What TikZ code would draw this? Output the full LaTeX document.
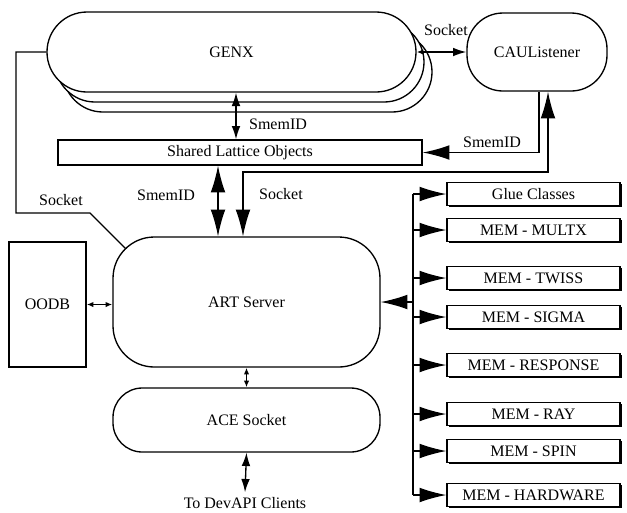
\documentclass[tikz,border=0pt]{standalone}
\usepackage{fontspec}
\setmainfont{Liberation Serif}
\usetikzlibrary{arrows.meta,shadows}

\tikzset{every picture/.style={line width=1pt}}
\tikzset{
  bigtip/.tip={Latex[length=20pt,width=11pt]},
  midtip/.tip={Latex[length=10pt,width=6.5pt]},
  smalltip/.tip={Latex[length=5pt,width=4pt]},
  proc/.style={draw, fill=white, rounded corners=#1, inner sep=0pt},
  plainbox/.style={draw, fill=white, inner sep=0pt},
  membox/.style={draw, fill=white, inner sep=0pt, minimum width=129.75pt, minimum height=17.25pt,
    drop shadow={shadow xshift=1.3pt, shadow yshift=-1.3pt, opacity=1, fill=black}},
}

\begin{document}
\begin{tikzpicture}[x=0.75pt,y=0.75pt,yscale=-1,xscale=1,font=\fontsize{12pt}{14pt}\selectfont]
	\useasboundingbox (0,0) rectangle (627,512);

	%Shape: GENX stack [id:genx]
	\node [proc=30pt, minimum width=276.75pt, minimum height=60pt] (genxb) at (247.5,72) {};
	\node [proc=30pt, minimum width=276.75pt, minimum height=60pt] (genxa) at (239.5,62) {};
	\node [proc=30pt, minimum width=276.75pt, minimum height=60pt] (genx) at (231.5,52) {GENX};
	%Shape: CAUListener [id:cau]
	\node [proc=27pt, minimum width=105pt, minimum height=58.5pt] (cau) at (537,52) {CAUListener};
	%Shape: Rectangle [id:lattice]
	\node [plainbox, minimum width=273pt, minimum height=18.75pt] (lattice) at (240,152.5) {Shared Lattice Objects};
	%Shape: ART Server [id:art]
	\node [proc=31pt, minimum width=200.25pt, minimum height=97.5pt] (art) at (246.5,302) {ART Server};
	%Shape: Rectangle [id:oodb]
	\node [plainbox, minimum width=57.75pt, minimum height=93.75pt] (oodb) at (47.5,304.5) {OODB};
	%Shape: ACE Socket [id:ace]
	\node [proc=22pt, minimum width=200.25pt, minimum height=48pt] (ace) at (246.5,420) {ACE Socket};

	%Shape: MEM boxes
	\node [membox] (glue) at (533.5,194) {Glue Classes};
	\node [membox] (multx) at (533.5,230) {MEM - MULTX};
	\node [membox] (twiss) at (533.5,278) {MEM - TWISS};
	\node [membox] (sigma) at (533.5,317) {MEM - SIGMA};
	\node [membox] (response) at (533.5,365) {MEM - RESPONSE};
	\node [membox] (ray) at (533.5,414) {MEM - RAY};
	\node [membox] (spin) at (533.5,451) {MEM - SPIN};
	\node [membox] (hardware) at (533.5,495) {MEM - HARDWARE};

	% Text Node
	\node (devapi) at (245,503) {To DevAPI Clients};

	% Helper coordinates
	\coordinate (smemtop) at (236,0);
	\coordinate (smemlow) at (218,0);
	\coordinate (cauleft) at (539,0);
	\coordinate (cauright) at (548,0);
	\coordinate (sockbend) at (243,172);
	\coordinate (sockl) at (16,213);
	\coordinate (sockm) at (90,213);
	\coordinate (artnw) at (126,249);
	\coordinate (bus) at (413,0);

	%Straight Lines [id:genx-lattice]
	\draw [{midtip}-{midtip}] (genx.south -| smemtop) -- (lattice.north -| smemtop);
	%Straight Lines [id:genx-cau]
	\draw [{smalltip}-{midtip}] (genx.east) -- (cau.west);
	%Straight Lines [id:cau-lattice]
	\draw [-{bigtip}] (cau.south -| cauleft) |- (lattice.east);
	%Straight Lines [id:cau-art]
	\draw [{bigtip}-{bigtip}] (cau.south -| cauright) |- (sockbend) -- (sockbend |- art.north);
	%Straight Lines [id:lattice-art]
	\draw [{bigtip}-{bigtip}] (lattice.south -| smemlow) -- (art.north -| smemlow);
	%Straight Lines [id:genx-art]
	\draw (genx.west) -| (sockl) -- (sockm) -- (artnw);
	%Straight Lines [id:oodb-art]
	\draw [{smalltip}-{smalltip}] (oodb.east) -- (oodb.east -| art.west);
	%Straight Lines [id:art-ace]
	\draw [{smalltip}-{smalltip}] (art.south) -- (ace.north);
	%Straight Lines [id:ace-devapi]
	\draw [{midtip}-{midtip}] (ace.south) -- (devapi.north);

	%Straight Lines [id:bus]
	\draw (glue.west -| bus) -- (hardware.west -| bus);
	\draw [-{bigtip}] (art.east -| bus) -- (art.east);
	\draw [-{bigtip}] (glue.west -| bus) -- (glue.west);
	\draw [-{bigtip}] (multx.west -| bus) -- (multx.west);
	\draw [-{bigtip}] (twiss.west -| bus) -- (twiss.west);
	\draw [-{bigtip}] (sigma.west -| bus) -- (sigma.west);
	\draw [-{bigtip}] (response.west -| bus) -- (response.west);
	\draw [-{bigtip}] (ray.west -| bus) -- (ray.west);
	\draw [-{bigtip}] (spin.west -| bus) -- (spin.west);
	\draw [-{bigtip}] (hardware.west -| bus) -- (hardware.west);

	% Text Node
	\node (lsocktop) at (446,30) {Socket};
	% Text Node
	\node (lsmemtop) at (278,124) {SmemID};
	% Text Node
	\node (lsmemcau) at (492,142) {SmemID};
	% Text Node
	\node (lsmemlow) at (166,195) {SmemID};
	% Text Node
	\node (lsockart) at (281,194) {Socket};
	% Text Node
	\node (lsockl) at (61,200) {Socket};

\end{tikzpicture}
\end{document}
